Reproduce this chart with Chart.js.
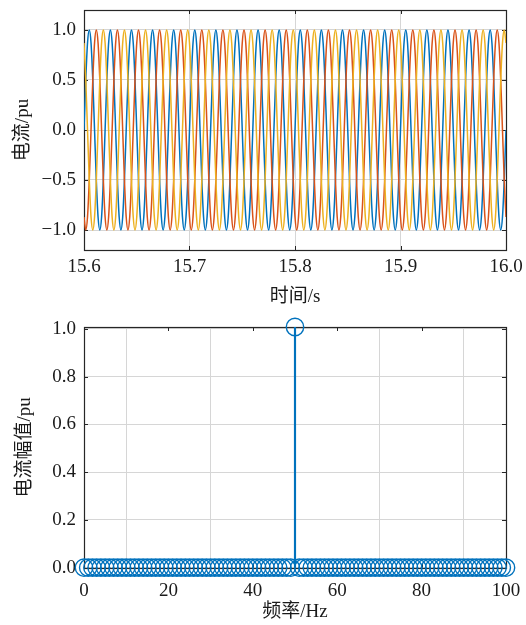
<!DOCTYPE html>
<html>
<head>
<meta charset="utf-8">
<script src="https://cdn.jsdelivr.net/npm/chart.js@4.4.0/dist/chart.umd.min.js"></script>
<style>
  html, body { margin:0; padding:0; background:#fff; }
  #wrap { position:relative; width:526px; height:625px; overflow:hidden; }
  .pane { position:absolute; left:0; width:526px; }
  #top { top:0; height:310px; }
  #bot { top:310px; height:315px; }
</style>
</head>
<body>
<div id="wrap">
  <div class="pane" id="top"><canvas id="waveChart"></canvas></div>
  <div class="pane" id="bot"><canvas id="specChart"></canvas></div>
</div>
<script>
// top plot: three phase currents, one period (30 deg steps)
var startS = 15.6;
var periodS = 0.02;
var cycleCount = 20;
var phaseA = [0.00, 0.50, 0.87, 1.00, 0.87, 0.50, 0.00, -0.50, -0.87, -1.00, -0.87, -0.50];
var phaseB = [-0.87, -1.00, -0.87, -0.50, 0.00, 0.50, 0.87, 1.00, 0.87, 0.50, 0.00, -0.50];
var phaseC = [0.87, 0.50, 0.00, -0.50, -0.87, -1.00, -0.87, -0.50, 0.00, 0.50, 0.87, 1.00];
var waveTicksX = [15.6, 15.7, 15.8, 15.9, 16.0];
var waveTicksY = [-1.0, -0.5, 0.0, 0.5, 1.0];

// bottom plot: spectrum
var freqHz = [
  0, 1, 2, 3, 4, 5, 6, 7, 8, 9,
  10, 11, 12, 13, 14, 15, 16, 17, 18, 19,
  20, 21, 22, 23, 24, 25, 26, 27, 28, 29,
  30, 31, 32, 33, 34, 35, 36, 37, 38, 39,
  40, 41, 42, 43, 44, 45, 46, 47, 48, 49,
  50, 51, 52, 53, 54, 55, 56, 57, 58, 59,
  60, 61, 62, 63, 64, 65, 66, 67, 68, 69,
  70, 71, 72, 73, 74, 75, 76, 77, 78, 79,
  80, 81, 82, 83, 84, 85, 86, 87, 88, 89,
  90, 91, 92, 93, 94, 95, 96, 97, 98, 99,
  100];
var ampPu = [
  0, 0, 0, 0, 0, 0, 0, 0, 0, 0,
  0, 0, 0, 0, 0, 0, 0, 0, 0, 0,
  0, 0, 0, 0, 0, 0, 0, 0, 0, 0,
  0, 0, 0, 0, 0, 0, 0, 0, 0, 0,
  0, 0, 0, 0, 0, 0, 0, 0, 0, 0,
  1.008, 0, 0, 0, 0, 0, 0, 0, 0, 0,
  0, 0, 0, 0, 0, 0, 0, 0, 0, 0,
  0, 0, 0, 0, 0, 0, 0, 0, 0, 0,
  0, 0, 0, 0, 0, 0, 0, 0, 0, 0,
  0, 0, 0, 0, 0, 0, 0, 0, 0, 0,
  0];
var specTicksX = [0, 20, 40, 60, 80, 100];
var specTicksY = [0, 0.2, 0.4, 0.6, 0.8, 1.0];

var BLUE = '#0072BD', RED = '#D95319', YELLOW = '#EDB120';
var GRID = '#d6d6d6', INK = '#1a1a1a';
var FS = 19;

Chart.defaults.font.family = "'Liberation Serif', 'Noto Sans CJK SC', serif";
Chart.defaults.font.size = FS;
Chart.defaults.color = INK;

function tile(cycle){
	var pts = [];
	var n = cycle.length;
	for(var k = 0; k < cycleCount; k++){
		for(var i = 0; i < n; i++){
			pts.push({x: startS + (k*n + i)*periodS/n, y: cycle[i]});
		}
	}
	pts.push({x: startS + cycleCount*periodS, y: cycle[0]});
	return pts;
}

function fmt1(v){
	return (v < -1e-9 ? '\u2212' : '') + Math.abs(v).toFixed(1);
}

// MATLAB style box with inward ticks
var boxPlugin = {
	id: 'box',
	beforeDatasetsDraw: function(chart){
		var ctx = chart.ctx, a = chart.chartArea;
		var x = chart.scales.x, y = chart.scales.y;
		ctx.save();
		ctx.strokeStyle = '#262626';
		ctx.lineWidth = 1;
		ctx.beginPath();
		x.ticks.forEach(function(t){
			var px = Math.round(x.getPixelForValue(t.value)) + 0.5;
			ctx.moveTo(px, a.bottom); ctx.lineTo(px, a.bottom - 4);
			ctx.moveTo(px, a.top); ctx.lineTo(px, a.top + 4);
		});
		y.ticks.forEach(function(t){
			var py = Math.round(y.getPixelForValue(t.value)) + 0.5;
			ctx.moveTo(a.left, py); ctx.lineTo(a.left + 4, py);
			ctx.moveTo(a.right, py); ctx.lineTo(a.right - 4, py);
		});
		ctx.stroke();
		ctx.lineWidth = 1.2;
		ctx.strokeRect(Math.round(a.left) + 0.5, Math.round(a.top) + 0.5,
			Math.round(a.right) - Math.round(a.left), Math.round(a.bottom) - Math.round(a.top));
		ctx.restore();
	}
};

function axis(opts){
	return {
		type: 'linear',
		min: opts.min,
		max: opts.max,
		afterBuildTicks: function(s){ s.ticks = opts.ticks.map(function(v){ return {value: v}; }); },
		afterFit: function(s){
			if(opts.width){ s.width = opts.width; }
			if(opts.height){ s.height = opts.height; }
			// keep the plot box where the layout padding puts it
			s.paddingLeft = 0; s.paddingRight = 0;
			s.paddingTop = 0; s.paddingBottom = 0;
		},
		ticks: {
			padding: opts.labelPad,
			maxRotation: 0,
			autoSkip: false,
			callback: opts.fmt,
			color: INK,
			font: {size: FS}
		},
		grid: { color: GRID, lineWidth: 1, drawTicks: false },
		border: { display: false },
		title: {
			display: true,
			text: opts.title,
			color: INK,
			font: {size: FS},
			padding: opts.titlePad
		}
	};
}

var common = {
	responsive: true,
	maintainAspectRatio: false,
	animation: false,
	events: [],
	plugins: { legend: {display: false}, tooltip: {enabled: false} }
};

new Chart(document.getElementById('waveChart'), {
	type: 'line',
	data: {
		datasets: [
			{ label: 'A', data: tile(phaseA), borderColor: BLUE, order: 3 },
			{ label: 'B', data: tile(phaseB), borderColor: RED, order: 2 },
			{ label: 'C', data: tile(phaseC), borderColor: YELLOW, order: 1 }
		].map(function(d){
			d.borderWidth = 1.5;
			d.pointRadius = 0;
			d.fill = false;
			d.cubicInterpolationMode = 'monotone';
			return d;
		})
	},
	options: Object.assign({}, common, {
		layout: { padding: {top: 10, right: 20, left: 0, bottom: 0} },
		scales: {
			x: axis({min: 15.6, max: 16.0, ticks: waveTicksX, fmt: fmt1, title: '时间/s',
				height: 60, labelPad: 5.5, titlePad: {top: 0, bottom: 1.5}}),
			y: axis({min: -1.2, max: 1.2, ticks: waveTicksY, fmt: fmt1, title: '电流/pu',
				width: 84, labelPad: 8, titlePad: {top: 11.5, bottom: 0}})
		}
	}),
	plugins: [boxPlugin]
});

var specPoints = freqHz.map(function(f, i){ return {x: f, y: ampPu[i]}; });

new Chart(document.getElementById('specChart'), {
	type: 'scatter',
	data: {
		datasets: [
			{
				type: 'bar',
				data: specPoints,
				backgroundColor: BLUE,
				borderWidth: 0,
				barThickness: 1.5,
				order: 2
			},
			{
				type: 'scatter',
				data: specPoints,
				showLine: false,
				pointStyle: 'circle',
				pointRadius: 8.7,
				pointBorderWidth: 1.4,
				pointBorderColor: BLUE,
				pointBackgroundColor: 'rgba(0,0,0,0)',
				clip: false,
				order: 1
			}
		]
	},
	options: Object.assign({}, common, {
		layout: { padding: {top: 17, right: 20, left: 0, bottom: 0} },
		scales: {
			x: Object.assign(axis({min: 0, max: 100, ticks: specTicksX, fmt: function(v){ return String(v); },
				title: '频率/Hz', height: 57.3, labelPad: 12, titlePad: {top: 0, bottom: 1.5}}), {offset: false}),
			y: axis({min: 0, max: 1.008, ticks: specTicksY, fmt: fmt1, title: '电流幅值/pu',
				width: 84, labelPad: 8, titlePad: {top: 13.5, bottom: 0}})
		}
	}),
	plugins: [boxPlugin]
});
</script>
</body>
</html>
